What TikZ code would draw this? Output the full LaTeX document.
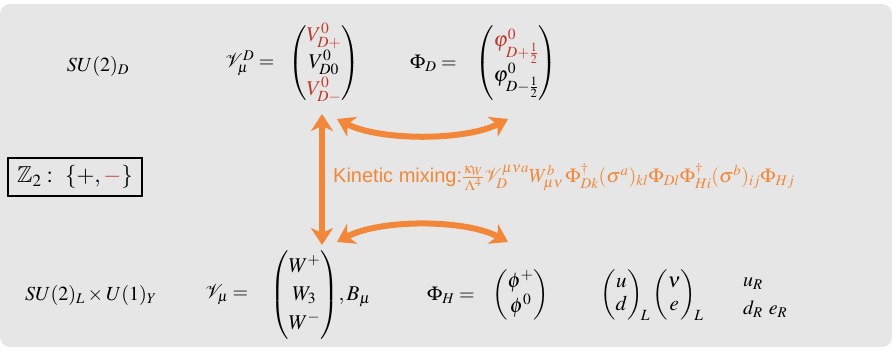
\documentclass[tikz,border=0pt]{standalone}
\usepackage{amsmath}
\usepackage{amssymb}
\usepackage{mathptmx}
\usepackage[no-math]{fontspec}
\newfontfamily\hv{Liberation Sans}
\usetikzlibrary{arrows.meta}
\definecolor{bg}{HTML}{E6E6E6}
\definecolor{dred}{HTML}{C0392B}
\definecolor{orng}{HTML}{F2873A}
\tikzset{
  eq/.style={inner sep=0pt, font=\fontsize{20}{24}\selectfont},
  mat/.style={inner sep=0pt, anchor=west, font=\fontsize{21}{25}\selectfont\renewcommand{\arraystretch}{1.15}},
  tmat/.style={inner sep=0pt, anchor=west, font=\fontsize{21}{24}\selectfont},
  smat/.style={inner sep=0pt, anchor=west, font=\fontsize{21}{23}\selectfont},
  mixarrow/.style={draw=orng, line width=6pt, {Stealth[length=17pt,width=22pt,inset=5pt]}-{Stealth[length=17pt,width=22pt,inset=5pt]}},
  zbox/.style={draw=black, line width=2pt, inner xsep=9pt, inner ysep=8pt, font=\fontsize{23}{27}\selectfont}
}
\begin{document}
\begin{tikzpicture}[x=1pt,y=-1pt]
\useasboundingbox (0,0) rectangle (893,349);
\fill[bg, rounded corners=10pt] (0,4) rectangle (892,347);

% top row
\node[eq] (sud) at (98,66) {$SU(2)_D$};
\node[eq, anchor=west] (vdl) at (225,63) {$\mathcal{V}^D_\mu=$};
\node[tmat] (vd) at (288,63) {$\begin{pmatrix}\color{dred}V^0_{D+}\\[2pt] V^0_{D0}\\[2pt] \color{dred}V^0_{D-}\end{pmatrix}$};
\node[eq, anchor=west] (phidl) at (410,63) {$\Phi_D=$};
\node[tmat] (phid) at (475,63) {$\begin{pmatrix}\color{dred}\varphi^0_{D+\frac12}\\ \varphi^0_{D-\frac12}\end{pmatrix}$};

% Z2 box
\node[zbox] (z2) at (75,177) {$\mathbb{Z}_2:\ \{+,{\color{dred}-}\}$};

% kinetic mixing label
\node[inner sep=0pt, anchor=west, text=orng, font=\fontsize{20}{24}\selectfont] (kin) at (333,177)
  {{\hv Kinetic mixing:}$\frac{\kappa_W}{\Lambda^4}\mathcal{V}_D^{\mu\nu a}W^b_{\mu\nu}\,\Phi^\dagger_{Dk}(\sigma^a)_{kl}\Phi_{Dl}\Phi^\dagger_{Hi}(\sigma^b)_{ij}\Phi_{Hj}$};

% bottom row
\node[eq, anchor=west] (sul) at (25,295) {$SU(2)_L\times U(1)_Y$};
\node[eq, anchor=west] (vmul) at (205,295) {$\mathcal{V}_\mu=$};
\node[mat] (vmu) at (270,295) {$\begin{pmatrix}W^+\\ W_3\\ W^-\end{pmatrix}\!,B_\mu$};
\node[eq, anchor=west] (phihl) at (427,295) {$\Phi_H=$};
\node[smat] (phih) at (492,295) {$\begin{pmatrix}\phi^+\\ \phi^0\end{pmatrix}$};
\node[smat] (ql) at (600,295) {$\begin{pmatrix}u\\ d\end{pmatrix}_{\!L}\begin{pmatrix}\nu\\ e\end{pmatrix}_{\!L}$};
\node[eq, anchor=west] (ur) at (743,284) {$u_R$};
\node[eq, anchor=west] (dr) at (743,309) {$d_R\ e_R$};

% arrows
\coordinate (vt) at (322,114);
\coordinate (vb) at (322,245);
\coordinate (ul) at (337,119);
\coordinate (ur2) at (508,119);
\coordinate (ll) at (337,242);
\coordinate (lr) at (508,242);
\draw[mixarrow] (vt) -- (vb);
\draw[mixarrow] (ul) .. controls (380,141) and (465,141) .. (ur2);
\draw[mixarrow] (ll) .. controls (380,219) and (465,219) .. (lr);
\end{tikzpicture}
\end{document}
